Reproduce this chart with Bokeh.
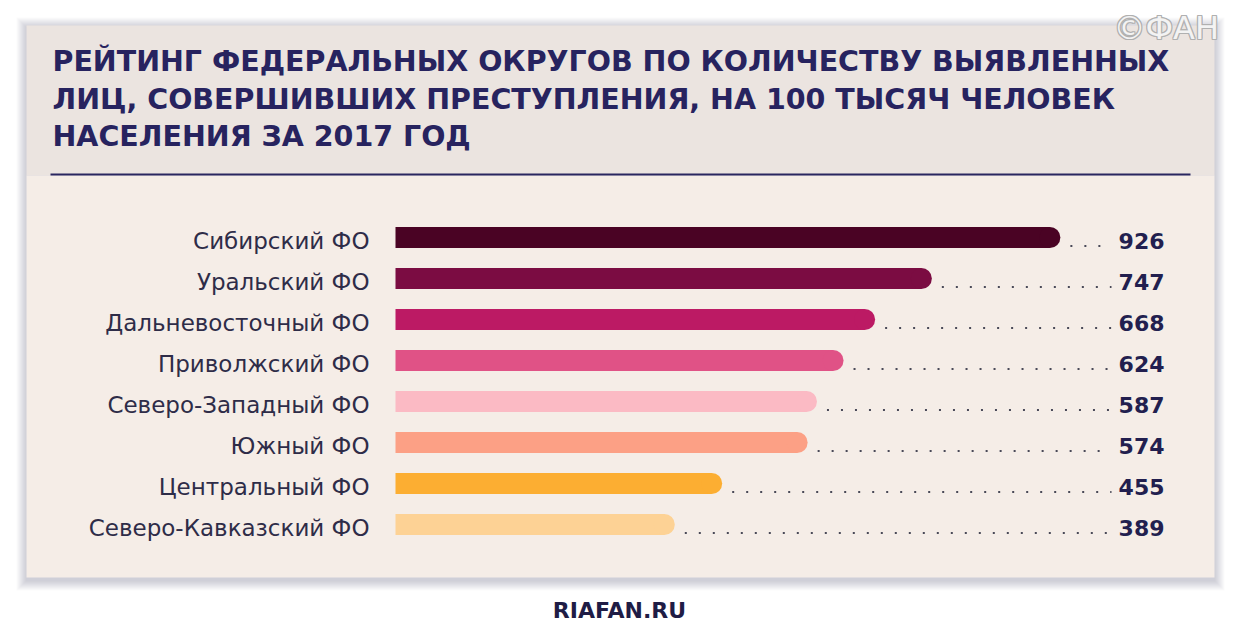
from bokeh.plotting import figure
from bokeh.models import Range1d
from bokeh.core.properties import value
from bokeh.embed import file_html
from bokeh.resources import INLINE

# ---- data ----
categories = ["Сибирский ФО", "Уральский ФО", "Дальневосточный ФО", "Приволжский ФО",
              "Северо-Западный ФО", "Южный ФО", "Центральный ФО", "Северо-Кавказский ФО"]
values = [926, 747, 668, 624, 587, 574, 455, 389]
colors = ["#4a0324", "#7b0c42", "#bc1a64", "#e05286", "#fbbac4", "#fca085", "#fcae32", "#fdd295"]
title_lines = ["РЕЙТИНГ ФЕДЕРАЛЬНЫХ ОКРУГОВ ПО КОЛИЧЕСТВУ ВЫЯВЛЕННЫХ",
               "ЛИЦ, СОВЕРШИВШИХ ПРЕСТУПЛЕНИЯ, НА 100 ТЫСЯЧ ЧЕЛОВЕК",
               "НАСЕЛЕНИЯ ЗА 2017 ГОД"]
source_text = "RIAFAN.RU"
watermark = "©ФАН"

# ---- layout helpers (page pixels -> data units) ----
W, H = 1238, 642
OX, OY = 0, 0                  # page position of the canvas
X0_PX, SX = 395.0, 0.718       # page x of value 0, px per unit
ROW0, STEP = 237.0, 41.0       # page y of first row centre, px per row


def xd(px):
    return (px - X0_PX) / SX


def yd(py):
    return (py - ROW0) / STEP


p = figure(width=W, height=H, output_backend="svg", toolbar_location=None,
           x_range=Range1d(xd(OX), xd(OX + W)), y_range=Range1d(yd(OY + H), yd(OY)),
           x_axis_type=None, y_axis_type=None, min_border=0,
           background_fill_color="white", border_fill_color="white",
           outline_line_color=None)
p.grid.visible = False

# card shadow
L, R, T, B = 26, 1214, 25, 577
ks = list(range(1, 11))
p.quad(left=[xd(L - k) for k in ks], right=[xd(R + k) for k in ks],
       top=[yd(T - k + 2) for k in ks], bottom=[yd(B + k + 3) for k in ks],
       fill_color="#3a3a5c", fill_alpha=0.028, line_color=None)
# card
p.quad(left=[xd(L)], right=[xd(R)], top=[yd(T)], bottom=[yd(175)],
       fill_color="#ebe4e0", line_color=None)
p.quad(left=[xd(L)], right=[xd(R)], top=[yd(175)], bottom=[yd(B)],
       fill_color="#f5ede7", line_color=None)
p.segment(x0=[xd(50)], x1=[xd(1190)], y0=[yd(174)], y1=[yd(174)],
          line_color="#2a2660", line_width=2)

# title
p.text(x=[xd(52)] * 3, y=[yd(61), yd(98.5), yd(136)], text=title_lines,
       text_font=value("DejaVu Sans"), text_font_style="bold", text_font_size="28.5px",
       text_color="#27235f", text_align="left", text_baseline="middle")

# watermark (outlined)
offs = [(-1, -1), (-1, 0), (-1, 1), (0, -1), (0, 1), (1, -1), (1, 0), (1, 1)]
p.text(x=[xd(1113 + dx) for dx, dy in offs], y=[yd(27 + dy) for dx, dy in offs],
       text=[watermark] * len(offs), text_font=value("DejaVu Sans"), text_font_size="32px",
       text_color="#b0b0b0", text_align="left", text_baseline="middle")
p.text(x=[xd(1113)], y=[yd(27)], text=[watermark], text_font=value("DejaVu Sans"),
       text_font_size="32px", text_color="#f3f3f3", text_align="left",
       text_baseline="middle")

# bars
idx = list(range(len(values)))
r_units = 10.5 / SX
p.hbar(y=idx, left=0, right=[v - r_units for v in values], height=21 / STEP,
       fill_color=colors, line_color=None)
p.scatter(x=[v - r_units for v in values], y=idx, size=21, marker="circle",
          fill_color=colors, line_color=None)

# dotted leaders
p.segment(x0=[v + 10 / SX for v in values], x1=[xd(1111)] * len(values),
          y0=[i + 8.5 / STEP for i in idx], y1=[i + 8.5 / STEP for i in idx],
          line_color="#4a4a58", line_width=2, line_dash="2 12")

# value labels
p.text(x=[xd(1164)] * len(values), y=[i + 3 / STEP for i in idx],
       text=[str(v) for v in values], text_font=value("DejaVu Sans"),
       text_font_style="bold", text_font_size="22px", text_color="#221f4f",
       text_align="right", text_baseline="middle")

# category labels
p.text(x=[xd(369)] * len(values), y=[i + 3 / STEP for i in idx], text=categories,
       text_font=value("DejaVu Sans"), text_font_size="23px", text_color="#2e2c48",
       text_align="right", text_baseline="middle")

# source
p.text(x=[xd(619)], y=[yd(610)], text=[source_text], text_font=value("DejaVu Sans"),
       text_font_style="bold", text_font_size="22px", text_color="#1f1c45",
       text_align="center", text_baseline="middle")

open("out.html", "w").write(file_html(p, INLINE))
